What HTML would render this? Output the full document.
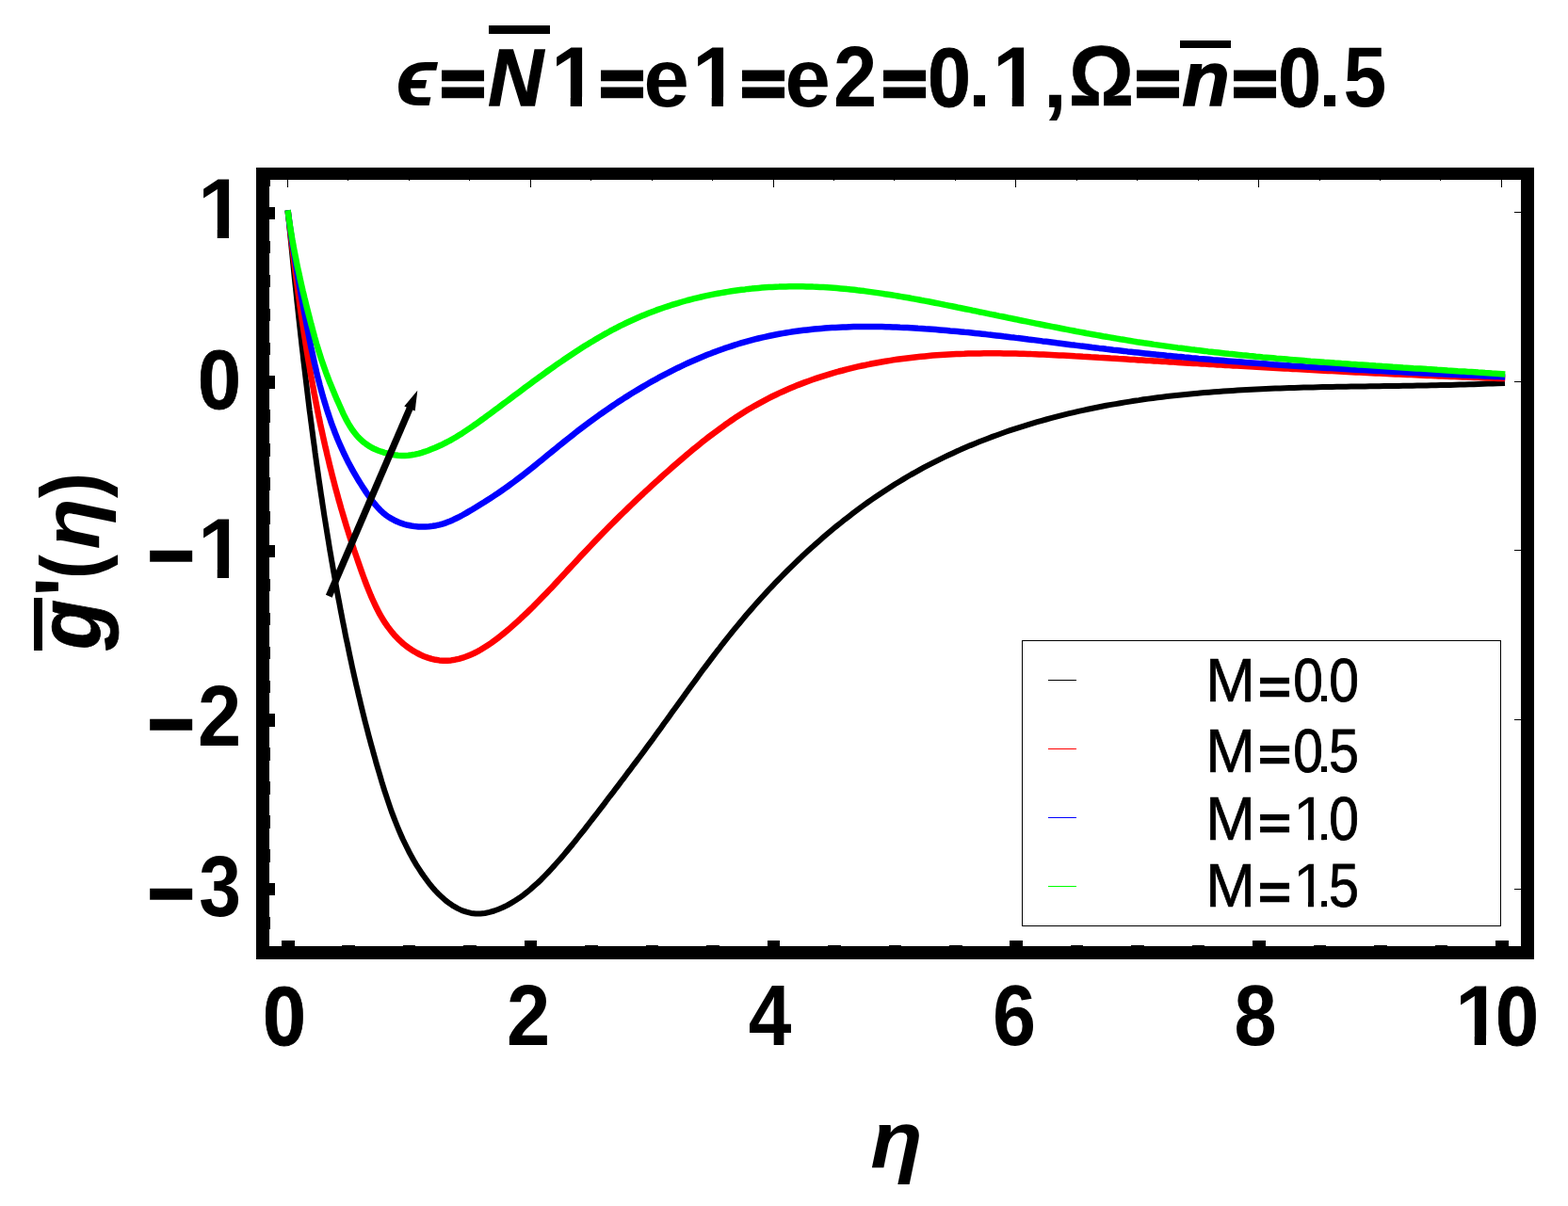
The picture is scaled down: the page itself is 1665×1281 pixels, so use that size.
<!DOCTYPE html>
<html lang="en">
<head>
<meta charset="utf-8">
<title>Plot</title>
<style>
html,body{margin:0;padding:0;background:#fff}
svg{display:block}
text{font-family:"Liberation Sans",sans-serif;fill:#000;stroke-linejoin:miter}
</style>
</head>
<body>
<svg width="1665" height="1281" viewBox="0 0 1665 1281">
<rect width="1665" height="1281" fill="#fff"/>
<defs><clipPath id="c0"><path clip-rule="evenodd" d="M-3000,-3000H3000V3000H-3000ZM1376.21,885.85h12.80v8.15h-12.80ZM1395.00,885.85h8.30v8.15h-8.30Z"/></clipPath><clipPath id="c1"><path clip-rule="evenodd" d="M-3000,-3000H3000V3000H-3000ZM1376.21,956.85h12.80v8.15h-12.80ZM1395.00,956.85h8.30v8.15h-8.30Z"/></clipPath><clipPath id="c2"><path clip-rule="evenodd" d="M-3000,-3000H3000V3000H-3000ZM589.02,102.66h16.72v12.34h-16.72ZM618.00,102.66h15.59v12.34h-15.59ZM739.02,102.66h16.72v12.34h-16.72ZM768.00,102.66h15.59v12.34h-15.59ZM1058.02,102.66h16.72v12.34h-16.72ZM1087.00,102.66h15.59v12.34h-15.59Z"/></clipPath><clipPath id="c3"><path clip-rule="evenodd" d="M-3000,-3000H3000V3000H-3000ZM214.02,242.66h16.72v12.34h-16.72ZM243.00,242.66h15.59v12.34h-15.59Z"/></clipPath><clipPath id="c4"><path clip-rule="evenodd" d="M-3000,-3000H3000V3000H-3000ZM214.02,603.66h16.72v12.34h-16.72ZM243.00,603.66h15.59v12.34h-15.59Z"/></clipPath><clipPath id="c5"><path clip-rule="evenodd" d="M-3000,-3000H3000V3000H-3000ZM1549.02,1099.66h16.72v12.34h-16.72ZM1578.00,1099.66h15.50v12.34h-15.50Z"/></clipPath></defs>
<g fill="#000" shape-rendering="crispEdges">
<rect x="272" y="178" width="14" height="841"/>
<rect x="1615" y="178" width="14" height="841"/>
<rect x="272" y="178" width="1357" height="13"/>
<rect x="272" y="1005" width="1357" height="14"/>
<rect x="286" y="973.9" width="1" height="13.5"/>
<rect x="286" y="938" width="6" height="13"/>
<rect x="1608" y="944" width="7" height="1"/>
<rect x="286" y="902.1" width="1" height="13.5"/>
<rect x="286" y="866.2" width="1" height="13.5"/>
<rect x="286" y="830.3" width="1" height="13.5"/>
<rect x="286" y="794.4" width="1" height="13.5"/>
<rect x="286" y="758" width="6" height="14"/>
<rect x="1608" y="764" width="7" height="1"/>
<rect x="286" y="722.6" width="1" height="13.5"/>
<rect x="286" y="686.7" width="1" height="13.5"/>
<rect x="286" y="650.8" width="1" height="13.5"/>
<rect x="286" y="614.9" width="1" height="13.5"/>
<rect x="286" y="579" width="6" height="13"/>
<rect x="1608" y="584" width="7" height="1"/>
<rect x="286" y="543.1" width="1" height="13.5"/>
<rect x="286" y="507.2" width="1" height="13.5"/>
<rect x="286" y="471.3" width="1" height="13.5"/>
<rect x="286" y="435.4" width="1" height="13.5"/>
<rect x="286" y="399" width="6" height="14"/>
<rect x="1608" y="405" width="7" height="1"/>
<rect x="286" y="363.6" width="1" height="13.5"/>
<rect x="286" y="327.7" width="1" height="13.5"/>
<rect x="286" y="291.8" width="1" height="13.5"/>
<rect x="286" y="255.9" width="1" height="13.5"/>
<rect x="286" y="220" width="6" height="13"/>
<rect x="1608" y="225" width="7" height="1"/>
<rect x="286" y="184.1" width="1" height="13.5"/>
<rect x="299.0" y="999" width="13.5" height="6"/>
<rect x="305" y="191" width="1" height="8"/>
<rect x="363.4" y="1004" width="13.5" height="1"/>
<rect x="369" y="191" width="1" height="1"/>
<rect x="427.9" y="1004" width="13.5" height="1"/>
<rect x="434" y="191" width="1" height="1"/>
<rect x="492.4" y="1004" width="13.5" height="1"/>
<rect x="498" y="191" width="1" height="1"/>
<rect x="556.8" y="999" width="13.5" height="6"/>
<rect x="563" y="191" width="1" height="8"/>
<rect x="621.2" y="1004" width="13.5" height="1"/>
<rect x="627" y="191" width="1" height="1"/>
<rect x="685.7" y="1004" width="13.5" height="1"/>
<rect x="692" y="191" width="1" height="1"/>
<rect x="750.2" y="1004" width="13.5" height="1"/>
<rect x="756" y="191" width="1" height="1"/>
<rect x="814.6" y="999" width="13.5" height="6"/>
<rect x="821" y="191" width="1" height="8"/>
<rect x="879.1" y="1004" width="13.5" height="1"/>
<rect x="885" y="191" width="1" height="1"/>
<rect x="943.5" y="1004" width="13.5" height="1"/>
<rect x="949" y="191" width="1" height="1"/>
<rect x="1008.0" y="1004" width="13.5" height="1"/>
<rect x="1014" y="191" width="1" height="1"/>
<rect x="1072.4" y="999" width="13.5" height="6"/>
<rect x="1078" y="191" width="1" height="8"/>
<rect x="1136.8" y="1004" width="13.5" height="1"/>
<rect x="1143" y="191" width="1" height="1"/>
<rect x="1201.3" y="1004" width="13.5" height="1"/>
<rect x="1207" y="191" width="1" height="1"/>
<rect x="1265.8" y="1004" width="13.5" height="1"/>
<rect x="1272" y="191" width="1" height="1"/>
<rect x="1330.2" y="999" width="13.5" height="6"/>
<rect x="1336" y="191" width="1" height="8"/>
<rect x="1394.7" y="1004" width="13.5" height="1"/>
<rect x="1401" y="191" width="1" height="1"/>
<rect x="1459.1" y="1004" width="13.5" height="1"/>
<rect x="1465" y="191" width="1" height="1"/>
<rect x="1523.5" y="1004" width="13.5" height="1"/>
<rect x="1529" y="191" width="1" height="1"/>
<rect x="1588.0" y="999" width="13.5" height="6"/>
<rect x="1594" y="191" width="1" height="8"/>
</g>
<g fill="none" stroke-width="6.5" stroke-linecap="square" stroke-linejoin="round">
<path stroke="#000" stroke-width="6" d="M306.0,226.5 306.5,231.5 307.0,236.5 307.4,241.5 307.9,246.5 308.4,251.4 308.9,256.4 309.4,261.4 309.9,266.4 310.4,271.4 310.9,276.4 311.4,281.4 311.9,286.4 312.4,291.4 312.9,296.4 313.4,301.3 314.0,306.3 314.5,311.3 315.0,316.3 315.5,321.3 316.1,326.3 316.6,331.3 317.1,336.3 317.7,341.3 318.2,346.3 318.8,351.3 319.3,356.3 319.9,361.2 320.4,366.2 321.0,371.2 321.6,376.2 322.1,381.2 322.7,386.2 323.3,391.2 323.9,396.2 324.5,401.2 325.1,406.1 325.7,411.1 326.3,416.1 326.9,421.1 327.5,426.1 328.1,431.1 328.7,436.1 329.4,441.0 330.0,446.0 330.7,451.0 331.3,456.0 332.0,461.0 332.6,465.9 333.3,470.9 334.0,475.9 334.6,480.9 335.3,485.8 336.0,490.8 336.7,495.8 337.4,500.7 338.1,505.7 338.8,510.7 339.6,515.7 340.3,520.6 341.0,525.6 341.8,530.5 342.5,535.5 343.3,540.5 344.0,545.4 344.8,550.4 345.6,555.3 346.4,560.3 347.2,565.2 348.0,570.2 348.8,575.1 349.6,580.1 350.4,585.0 351.3,590.0 352.1,594.9 353.0,599.9 353.8,604.8 354.7,609.7 355.6,614.7 356.4,619.6 357.3,624.5 358.2,629.5 359.1,634.4 360.1,639.3 361.0,644.2 361.9,649.2 362.9,654.1 363.8,659.0 364.8,663.9 365.8,668.8 366.7,673.7 367.7,678.6 368.8,683.5 369.8,688.4 370.8,693.3 371.8,698.2 372.9,703.1 373.9,708.0 375.0,712.9 376.1,717.8 377.2,722.7 378.3,727.6 379.5,732.5 380.6,737.4 381.8,742.2 382.9,747.1 384.1,752.0 385.3,756.9 386.5,761.7 387.7,766.6 389.0,771.5 390.3,776.4 391.5,781.2 392.8,786.1 394.1,790.9 395.5,795.8 396.8,800.7 398.2,805.5 399.5,810.4 400.9,815.2 402.4,820.1 403.8,824.9 405.2,829.8 406.7,834.6 408.2,839.5 409.8,844.3 411.4,849.1 413.0,853.9 414.6,858.6 416.3,863.4 418.1,868.1 419.9,872.8 421.8,877.5 423.7,882.1 425.7,886.7 427.7,891.3 429.9,895.8 432.1,900.3 434.3,904.7 436.7,909.1 439.1,913.5 441.6,917.8 444.3,922.0 447.0,926.2 449.8,930.3 452.7,934.3 455.7,938.3 458.9,942.2 462.2,946.0 465.7,949.6 469.4,953.1 473.2,956.5 477.3,959.6 481.5,962.4 485.9,964.9 490.5,967.1 495.3,968.7 500.1,969.9 505.1,970.5 510.1,970.5 515.0,970.0 519.9,968.9 524.7,967.5 529.5,965.7 534.1,963.8 538.6,961.6 542.9,959.1 547.2,956.5 551.4,953.8 555.5,950.8 559.5,947.7 563.4,944.5 567.2,941.1 571.0,937.7 574.7,934.2 578.3,930.5 581.8,926.9 585.2,923.2 588.7,919.4 592.0,915.6 595.3,911.9 598.6,908.1 601.8,904.3 604.9,900.5 608.1,896.7 611.2,892.8 614.2,889.0 617.3,885.1 620.4,881.3 623.4,877.4 626.4,873.5 629.4,869.6 632.5,865.7 635.5,861.7 638.5,857.8 641.6,853.8 644.6,849.8 647.6,845.8 650.7,841.9 653.7,837.8 656.8,833.8 659.8,829.8 662.9,825.8 665.9,821.7 669.0,817.7 672.0,813.6 675.0,809.6 678.1,805.5 681.1,801.5 684.1,797.4 687.1,793.3 690.1,789.2 693.1,785.2 696.1,781.1 699.0,777.0 702.0,772.9 704.9,768.8 707.9,764.8 710.8,760.7 713.7,756.6 716.7,752.5 719.6,748.5 722.5,744.4 725.4,740.4 728.4,736.3 731.3,732.3 734.2,728.2 737.2,724.2 740.1,720.2 743.1,716.1 746.0,712.1 749.0,708.1 752.0,704.1 755.0,700.1 758.0,696.2 761.0,692.2 764.1,688.3 767.1,684.3 770.2,680.4 773.3,676.5 776.4,672.6 779.6,668.7 782.8,664.8 786.0,661.0 789.2,657.1 792.4,653.3 795.7,649.5 799.0,645.7 802.3,641.9 805.6,638.2 809.0,634.4 812.4,630.7 815.8,627.0 819.3,623.4 822.7,619.7 826.2,616.1 829.7,612.5 833.3,608.9 836.8,605.3 840.4,601.8 844.0,598.3 847.7,594.8 851.3,591.3 855.0,587.9 858.7,584.4 862.5,581.1 866.2,577.7 870.0,574.4 873.8,571.1 877.6,567.8 881.5,564.5 885.3,561.3 889.2,558.1 893.2,555.0 897.1,551.8 901.1,548.8 905.1,545.7 909.1,542.7 913.1,539.7 917.2,536.7 921.2,533.8 925.3,530.9 929.5,528.0 933.6,525.2 937.8,522.4 942.0,519.7 946.2,517.0 950.4,514.3 954.7,511.7 959.0,509.1 963.3,506.5 967.6,504.0 972.0,501.6 976.4,499.1 980.8,496.7 985.2,494.4 989.6,492.1 994.1,489.8 998.6,487.6 1003.1,485.4 1007.6,483.3 1012.1,481.2 1016.7,479.1 1021.2,477.1 1025.8,475.1 1030.4,473.1 1035.1,471.2 1039.7,469.3 1044.4,467.5 1049.0,465.7 1053.7,463.9 1058.4,462.2 1063.2,460.5 1067.9,458.8 1072.6,457.2 1077.4,455.6 1082.2,454.1 1087.0,452.6 1091.7,451.1 1096.6,449.6 1101.4,448.2 1106.2,446.8 1111.0,445.5 1115.9,444.2 1120.7,442.9 1125.6,441.6 1130.5,440.4 1135.4,439.2 1140.2,438.1 1145.1,436.9 1150.0,435.9 1155.0,434.8 1159.9,433.8 1164.8,432.8 1169.7,431.8 1174.6,430.8 1179.6,429.9 1184.5,429.1 1189.5,428.2 1194.4,427.4 1199.4,426.6 1204.3,425.8 1209.3,425.1 1214.2,424.3 1219.2,423.6 1224.1,423.0 1229.1,422.3 1234.1,421.7 1239.1,421.1 1244.0,420.5 1249.0,420.0 1254.0,419.4 1259.0,418.9 1264.0,418.4 1269.0,418.0 1274.0,417.5 1279.0,417.1 1284.0,416.7 1289.0,416.3 1294.0,415.9 1299.0,415.5 1304.0,415.2 1309.0,414.9 1314.0,414.6 1319.0,414.3 1324.0,414.0 1329.0,413.7 1334.0,413.5 1339.1,413.2 1344.1,413.0 1349.1,412.8 1354.1,412.6 1359.2,412.4 1364.2,412.2 1369.2,412.1 1374.2,411.9 1379.3,411.8 1384.3,411.6 1389.3,411.5 1394.3,411.4 1399.4,411.2 1404.4,411.1 1409.4,411.0 1414.5,410.9 1419.5,410.8 1424.5,410.8 1429.5,410.7 1434.6,410.6 1439.6,410.5 1444.6,410.4 1449.7,410.4 1454.7,410.3 1459.7,410.2 1464.7,410.2 1469.8,410.1 1474.8,410.0 1479.8,409.9 1484.9,409.9 1489.9,409.8 1494.9,409.7 1499.9,409.7 1504.9,409.6 1510.0,409.5 1515.0,409.4 1520.0,409.3 1525.0,409.2 1530.0,409.1 1535.0,409.0 1540.0,408.9 1545.0,408.8 1550.1,408.6 1555.1,408.5 1560.1,408.3 1565.1,408.2 1570.1,408.0 1575.0,407.8 1580.0,407.6 1585.0,407.4 1590.0,407.2 1595.0,407.0"/>
<path stroke="#f00" d="M306.0,226.5 306.5,230.7 307.0,234.9 307.5,239.1 308.0,243.3 308.5,247.5 309.0,251.7 309.5,255.9 310.0,260.1 310.6,264.3 311.1,268.5 311.6,272.6 312.1,276.8 312.7,281.0 313.2,285.2 313.7,289.4 314.3,293.5 314.8,297.7 315.4,301.9 316.0,306.0 316.5,310.2 317.1,314.3 317.7,318.5 318.2,322.7 318.8,326.8 319.4,331.0 320.0,335.1 320.6,339.3 321.2,343.4 321.9,347.5 322.5,351.7 323.1,355.8 323.8,359.9 324.4,364.1 325.1,368.2 325.7,372.3 326.4,376.5 327.1,380.6 327.8,384.7 328.5,388.8 329.2,392.9 329.9,397.1 330.6,401.2 331.4,405.3 332.1,409.4 332.9,413.5 333.6,417.6 334.4,421.7 335.2,425.8 336.0,429.9 336.8,434.0 337.6,438.1 338.4,442.2 339.3,446.3 340.1,450.4 341.0,454.5 341.9,458.5 342.8,462.6 343.7,466.7 344.6,470.8 345.5,474.9 346.5,478.9 347.4,483.0 348.4,487.1 349.4,491.2 350.3,495.2 351.4,499.3 352.4,503.4 353.4,507.4 354.5,511.5 355.5,515.5 356.6,519.6 357.7,523.7 358.8,527.7 359.9,531.8 361.1,535.8 362.2,539.9 363.4,543.9 364.6,548.0 365.8,552.0 367.0,556.0 368.2,560.1 369.5,564.1 370.8,568.2 372.1,572.2 373.4,576.2 374.7,580.3 376.0,584.3 377.4,588.3 378.8,592.3 380.2,596.4 381.6,600.4 383.0,604.4 384.4,608.4 385.9,612.5 387.4,616.5 388.9,620.5 390.5,624.5 392.1,628.4 393.7,632.4 395.4,636.3 397.2,640.2 399.0,644.0 400.9,647.8 402.8,651.5 404.9,655.1 407.1,658.7 409.3,662.2 411.7,665.6 414.2,668.9 416.8,672.2 419.5,675.3 422.4,678.3 425.4,681.2 428.5,684.0 431.9,686.6 435.3,689.1 438.9,691.4 442.6,693.5 446.4,695.5 450.3,697.2 454.3,698.6 458.3,699.9 462.4,700.8 466.5,701.4 470.7,701.7 474.9,701.7 479.0,701.4 483.2,700.7 487.3,699.8 491.3,698.7 495.3,697.3 499.2,695.7 503.1,694.0 506.9,692.1 510.6,690.0 514.2,687.8 517.8,685.5 521.4,683.1 524.8,680.6 528.2,678.1 531.5,675.5 534.8,672.9 538.0,670.3 541.1,667.6 544.2,664.9 547.3,662.1 550.4,659.4 553.4,656.5 556.5,653.7 559.5,650.8 562.5,647.9 565.5,645.0 568.4,642.0 571.4,639.0 574.3,636.0 577.2,633.0 580.2,630.0 583.1,626.9 586.0,623.9 588.9,620.8 591.7,617.7 594.6,614.6 597.5,611.5 600.4,608.4 603.2,605.3 606.1,602.2 609.0,599.1 611.9,596.0 614.7,592.9 617.6,589.8 620.5,586.7 623.4,583.7 626.3,580.6 629.2,577.6 632.1,574.5 635.0,571.5 637.9,568.5 640.8,565.5 643.8,562.5 646.7,559.5 649.7,556.5 652.6,553.6 655.6,550.6 658.6,547.7 661.6,544.7 664.6,541.8 667.6,538.9 670.6,536.0 673.6,533.1 676.7,530.2 679.7,527.3 682.8,524.5 685.8,521.6 688.9,518.8 692.0,515.9 695.1,513.1 698.2,510.3 701.3,507.5 704.4,504.7 707.6,501.9 710.7,499.1 713.9,496.3 717.1,493.5 720.3,490.8 723.5,488.0 726.7,485.3 729.9,482.5 733.2,479.8 736.4,477.1 739.7,474.4 743.0,471.8 746.3,469.1 749.6,466.5 752.9,463.9 756.3,461.3 759.7,458.8 763.1,456.3 766.5,453.8 769.9,451.3 773.4,448.9 776.8,446.5 780.3,444.1 783.9,441.8 787.4,439.5 790.9,437.3 794.5,435.1 798.1,433.0 801.8,430.8 805.4,428.8 809.1,426.8 812.8,424.8 816.5,422.9 820.2,421.0 824.0,419.2 827.8,417.4 831.6,415.7 835.4,414.0 839.3,412.3 843.1,410.7 847.0,409.1 850.9,407.6 854.8,406.1 858.7,404.7 862.7,403.3 866.7,401.9 870.6,400.6 874.6,399.3 878.6,398.1 882.7,396.8 886.7,395.7 890.7,394.5 894.8,393.5 898.9,392.4 902.9,391.4 907.0,390.4 911.1,389.4 915.3,388.5 919.4,387.7 923.5,386.8 927.6,386.0 931.8,385.2 935.9,384.5 940.1,383.8 944.3,383.1 948.4,382.4 952.6,381.8 956.8,381.2 961.0,380.7 965.2,380.2 969.3,379.7 973.5,379.2 977.7,378.8 981.9,378.4 986.1,378.0 990.3,377.6 994.5,377.3 998.7,377.0 1002.9,376.7 1007.1,376.5 1011.3,376.3 1015.5,376.1 1019.7,375.9 1023.9,375.8 1028.1,375.6 1032.3,375.5 1036.5,375.4 1040.7,375.4 1044.9,375.3 1049.1,375.3 1053.3,375.3 1057.5,375.3 1061.7,375.3 1065.9,375.4 1070.1,375.4 1074.3,375.5 1078.5,375.6 1082.7,375.7 1086.9,375.8 1091.1,375.9 1095.3,376.1 1099.5,376.2 1103.7,376.4 1107.9,376.6 1112.1,376.8 1116.3,377.0 1120.5,377.2 1124.7,377.4 1128.9,377.6 1133.1,377.8 1137.3,378.0 1141.5,378.3 1145.7,378.5 1149.9,378.8 1154.1,379.0 1158.3,379.3 1162.5,379.5 1166.7,379.8 1170.9,380.0 1175.1,380.3 1179.3,380.6 1183.5,380.8 1187.7,381.1 1191.9,381.3 1196.1,381.6 1200.3,381.9 1204.5,382.1 1208.6,382.4 1212.8,382.6 1217.0,382.9 1221.2,383.1 1225.4,383.4 1229.6,383.6 1233.8,383.9 1238.0,384.1 1242.2,384.4 1246.4,384.6 1250.6,384.9 1254.8,385.2 1259.0,385.4 1263.2,385.7 1267.4,385.9 1271.6,386.1 1275.8,386.4 1280.0,386.6 1284.2,386.9 1288.4,387.1 1292.6,387.4 1296.8,387.6 1301.0,387.9 1305.2,388.1 1309.4,388.4 1313.6,388.6 1317.8,388.8 1322.0,389.1 1326.2,389.3 1330.4,389.5 1334.6,389.8 1338.8,390.0 1343.0,390.3 1347.2,390.5 1351.4,390.7 1355.6,391.0 1359.8,391.2 1364.0,391.4 1368.2,391.6 1372.4,391.9 1376.6,392.1 1380.8,392.3 1385.0,392.5 1389.2,392.8 1393.4,393.0 1397.6,393.2 1401.8,393.4 1406.0,393.7 1410.2,393.9 1414.4,394.1 1418.6,394.3 1422.8,394.5 1427.0,394.7 1431.2,394.9 1435.4,395.2 1439.6,395.4 1443.8,395.6 1448.0,395.8 1452.2,396.0 1456.4,396.2 1460.6,396.4 1464.8,396.6 1469.0,396.8 1473.2,397.0 1477.4,397.2 1481.6,397.4 1485.8,397.6 1490.0,397.8 1494.2,397.9 1498.4,398.1 1502.6,398.3 1506.8,398.5 1511.0,398.7 1515.2,398.9 1519.4,399.1 1523.6,399.2 1527.8,399.4 1532.0,399.6 1536.2,399.8 1540.4,399.9 1544.6,400.1 1548.8,400.3 1553.0,400.4 1557.2,400.6 1561.4,400.8 1565.6,400.9 1569.8,401.1 1574.0,401.2 1578.2,401.4 1582.4,401.6 1586.6,401.7 1590.8,401.9 1595.0,402.0"/>
<path stroke="#00f" d="M306.0,226.5 306.5,230.3 307.0,234.0 307.5,237.8 308.0,241.6 308.6,245.3 309.1,249.1 309.7,252.9 310.2,256.6 310.8,260.4 311.4,264.1 312.0,267.9 312.6,271.6 313.2,275.3 313.8,279.1 314.4,282.8 315.0,286.6 315.7,290.3 316.3,294.0 317.0,297.8 317.6,301.5 318.3,305.2 319.0,309.0 319.6,312.7 320.3,316.4 321.0,320.2 321.7,323.9 322.4,327.6 323.1,331.4 323.8,335.1 324.5,338.8 325.2,342.6 325.9,346.3 326.6,350.0 327.4,353.8 328.1,357.5 328.8,361.2 329.6,365.0 330.3,368.7 331.1,372.4 331.9,376.1 332.7,379.9 333.5,383.6 334.3,387.3 335.2,391.0 336.0,394.7 336.9,398.4 337.8,402.1 338.8,405.8 339.7,409.5 340.7,413.1 341.7,416.8 342.7,420.5 343.8,424.1 344.9,427.8 346.0,431.4 347.1,435.0 348.3,438.6 349.5,442.2 350.7,445.8 351.9,449.4 353.2,452.9 354.6,456.5 355.9,460.0 357.3,463.5 358.7,467.0 360.2,470.5 361.7,473.9 363.3,477.4 364.8,480.8 366.5,484.2 368.1,487.6 369.8,490.9 371.6,494.3 373.4,497.6 375.2,500.9 377.1,504.2 379.0,507.4 381.0,510.7 383.0,513.9 385.1,517.2 387.2,520.4 389.3,523.6 391.6,526.8 393.8,530.0 396.1,533.1 398.6,536.1 401.1,539.0 403.7,541.8 406.5,544.4 409.4,546.8 412.4,549.0 415.6,550.9 418.9,552.7 422.3,554.3 425.8,555.7 429.3,556.8 433.0,557.8 436.7,558.5 440.4,559.1 444.2,559.4 448.0,559.6 451.8,559.5 455.6,559.3 459.4,558.8 463.1,558.2 466.8,557.3 470.5,556.3 474.1,555.1 477.6,553.7 481.1,552.2 484.6,550.5 488.0,548.8 491.4,547.0 494.8,545.1 498.1,543.1 501.4,541.2 504.7,539.2 507.9,537.2 511.1,535.2 514.4,533.2 517.5,531.2 520.7,529.2 523.9,527.1 527.0,525.1 530.1,523.0 533.3,520.8 536.3,518.7 539.4,516.5 542.5,514.2 545.5,512.0 548.6,509.7 551.6,507.4 554.6,505.1 557.6,502.7 560.6,500.4 563.6,498.0 566.6,495.6 569.5,493.2 572.5,490.8 575.4,488.4 578.4,486.0 581.3,483.6 584.2,481.2 587.1,478.9 590.1,476.5 593.0,474.1 595.9,471.7 598.8,469.4 601.8,467.0 604.7,464.7 607.7,462.4 610.6,460.0 613.6,457.7 616.6,455.4 619.6,453.1 622.6,450.9 625.6,448.6 628.7,446.3 631.8,444.1 634.9,441.9 637.9,439.7 641.1,437.5 644.2,435.3 647.3,433.2 650.5,431.0 653.7,428.9 656.8,426.8 660.0,424.7 663.2,422.6 666.5,420.6 669.7,418.6 673.0,416.5 676.2,414.6 679.5,412.6 682.8,410.6 686.1,408.7 689.4,406.8 692.7,404.9 696.1,403.1 699.4,401.2 702.8,399.4 706.2,397.6 709.6,395.9 713.0,394.1 716.4,392.4 719.8,390.7 723.2,389.1 726.7,387.4 730.2,385.8 733.6,384.3 737.1,382.7 740.6,381.2 744.1,379.7 747.6,378.3 751.1,376.8 754.7,375.5 758.2,374.1 761.8,372.8 765.3,371.5 768.9,370.2 772.5,369.0 776.1,367.8 779.7,366.6 783.3,365.5 786.9,364.4 790.5,363.3 794.1,362.3 797.8,361.3 801.4,360.4 805.1,359.5 808.8,358.6 812.4,357.8 816.1,357.0 819.8,356.2 823.5,355.5 827.2,354.8 830.9,354.1 834.6,353.5 838.4,352.9 842.1,352.3 845.8,351.8 849.6,351.3 853.3,350.8 857.1,350.4 860.8,350.0 864.6,349.6 868.4,349.2 872.1,348.9 875.9,348.6 879.7,348.3 883.5,348.1 887.2,347.9 891.0,347.7 894.8,347.5 898.6,347.4 902.4,347.2 906.2,347.1 910.0,347.1 913.8,347.0 917.6,347.0 921.4,347.0 925.3,347.0 929.1,347.0 932.9,347.1 936.7,347.1 940.5,347.2 944.3,347.3 948.1,347.5 951.9,347.6 955.8,347.8 959.6,347.9 963.4,348.1 967.2,348.3 971.0,348.5 974.8,348.8 978.6,349.0 982.4,349.3 986.2,349.5 990.0,349.8 993.8,350.1 997.6,350.4 1001.4,350.7 1005.2,351.0 1009.0,351.4 1012.8,351.7 1016.6,352.0 1020.4,352.4 1024.1,352.8 1027.9,353.1 1031.7,353.5 1035.5,353.9 1039.3,354.3 1043.0,354.7 1046.8,355.1 1050.6,355.6 1054.3,356.0 1058.1,356.4 1061.9,356.8 1065.6,357.3 1069.4,357.7 1073.2,358.2 1076.9,358.6 1080.7,359.1 1084.5,359.5 1088.2,360.0 1092.0,360.5 1095.8,360.9 1099.5,361.4 1103.3,361.9 1107.0,362.4 1110.8,362.8 1114.5,363.3 1118.3,363.8 1122.1,364.3 1125.8,364.7 1129.6,365.2 1133.3,365.7 1137.1,366.2 1140.9,366.6 1144.6,367.1 1148.4,367.6 1152.1,368.0 1155.9,368.5 1159.7,369.0 1163.4,369.4 1167.2,369.9 1170.9,370.3 1174.7,370.8 1178.5,371.2 1182.2,371.7 1186.0,372.1 1189.8,372.5 1193.5,372.9 1197.3,373.4 1201.1,373.8 1204.8,374.2 1208.6,374.6 1212.4,375.0 1216.2,375.4 1219.9,375.8 1223.7,376.2 1227.5,376.6 1231.3,376.9 1235.0,377.3 1238.8,377.7 1242.6,378.0 1246.4,378.4 1250.2,378.8 1253.9,379.1 1257.7,379.5 1261.5,379.8 1265.3,380.2 1269.1,380.5 1272.8,380.9 1276.6,381.2 1280.4,381.5 1284.2,381.8 1288.0,382.2 1291.8,382.5 1295.6,382.8 1299.3,383.1 1303.1,383.4 1306.9,383.7 1310.7,384.0 1314.5,384.3 1318.3,384.6 1322.1,384.9 1325.9,385.2 1329.6,385.5 1333.4,385.8 1337.2,386.1 1341.0,386.3 1344.8,386.6 1348.6,386.9 1352.4,387.2 1356.2,387.4 1360.0,387.7 1363.8,388.0 1367.6,388.2 1371.4,388.5 1375.1,388.7 1378.9,389.0 1382.7,389.2 1386.5,389.5 1390.3,389.7 1394.1,390.0 1397.9,390.2 1401.7,390.4 1405.5,390.7 1409.3,390.9 1413.1,391.1 1416.9,391.3 1420.7,391.6 1424.5,391.8 1428.3,392.0 1432.1,392.2 1435.8,392.5 1439.6,392.7 1443.4,392.9 1447.2,393.1 1451.0,393.3 1454.8,393.5 1458.6,393.7 1462.4,393.9 1466.2,394.1 1470.0,394.3 1473.8,394.5 1477.6,394.7 1481.4,394.9 1485.2,395.1 1489.0,395.3 1492.7,395.5 1496.5,395.7 1500.3,395.9 1504.1,396.1 1507.9,396.3 1511.7,396.4 1515.5,396.6 1519.3,396.8 1523.1,397.0 1526.9,397.2 1530.7,397.3 1534.4,397.5 1538.2,397.7 1542.0,397.9 1545.8,398.1 1549.6,398.2 1553.4,398.4 1557.2,398.6 1561.0,398.8 1564.7,398.9 1568.5,399.1 1572.3,399.3 1576.1,399.4 1579.9,399.6 1583.7,399.8 1587.4,400.0 1591.2,400.1 1595.0,400.3"/>
<path stroke="#0f0" d="M306.0,226.5 306.5,230.1 307.0,233.7 307.6,237.3 308.1,240.9 308.7,244.5 309.3,248.1 309.9,251.7 310.5,255.3 311.2,258.8 311.8,262.4 312.5,266.0 313.2,269.6 313.9,273.1 314.6,276.7 315.3,280.3 316.0,283.8 316.8,287.4 317.6,290.9 318.3,294.5 319.1,298.0 319.9,301.6 320.7,305.1 321.5,308.7 322.4,312.2 323.2,315.8 324.1,319.3 324.9,322.8 325.8,326.4 326.7,329.9 327.6,333.4 328.5,336.9 329.4,340.5 330.3,344.0 331.3,347.5 332.2,351.0 333.2,354.6 334.1,358.1 335.1,361.6 336.1,365.1 337.2,368.6 338.2,372.0 339.3,375.5 340.4,379.0 341.5,382.4 342.7,385.9 343.9,389.3 345.1,392.7 346.3,396.1 347.6,399.5 348.9,402.9 350.2,406.3 351.6,409.6 353.0,413.0 354.4,416.3 355.8,419.7 357.2,423.1 358.7,426.4 360.2,429.8 361.7,433.1 363.2,436.5 364.7,439.8 366.3,443.1 368.0,446.4 369.8,449.6 371.7,452.7 373.6,455.8 375.8,458.7 378.0,461.6 380.4,464.3 383.0,466.8 385.7,469.3 388.6,471.5 391.6,473.6 394.8,475.5 398.0,477.1 401.4,478.5 404.9,479.7 408.4,480.8 411.9,481.7 415.5,482.5 419.1,483.2 422.7,483.7 426.3,483.9 429.9,483.9 433.5,483.7 437.1,483.3 440.7,482.6 444.3,481.8 447.8,480.8 451.3,479.7 454.8,478.5 458.3,477.1 461.6,475.8 465.0,474.3 468.3,472.8 471.6,471.1 474.8,469.5 478.0,467.8 481.2,466.0 484.3,464.2 487.4,462.3 490.5,460.4 493.5,458.4 496.5,456.4 499.5,454.4 502.5,452.3 505.5,450.3 508.5,448.1 511.4,446.0 514.4,443.9 517.3,441.7 520.2,439.6 523.2,437.4 526.1,435.2 529.0,433.1 531.9,430.9 534.8,428.7 537.8,426.5 540.7,424.3 543.6,422.1 546.5,419.9 549.4,417.8 552.4,415.6 555.3,413.4 558.2,411.2 561.1,409.1 564.1,406.9 567.0,404.7 569.9,402.6 572.9,400.4 575.8,398.3 578.8,396.1 581.7,394.0 584.7,391.9 587.6,389.8 590.6,387.7 593.6,385.6 596.6,383.6 599.6,381.5 602.6,379.5 605.6,377.5 608.6,375.5 611.6,373.5 614.7,371.5 617.7,369.6 620.8,367.6 623.9,365.7 627.0,363.8 630.1,362.0 633.2,360.1 636.3,358.3 639.4,356.5 642.6,354.7 645.7,353.0 648.9,351.2 652.1,349.5 655.3,347.9 658.5,346.2 661.8,344.6 665.0,343.0 668.3,341.5 671.6,340.0 674.9,338.5 678.3,337.0 681.6,335.6 685.0,334.2 688.4,332.8 691.8,331.5 695.2,330.2 698.6,328.9 702.0,327.7 705.5,326.5 709.0,325.4 712.5,324.2 716.0,323.1 719.5,322.1 723.0,321.0 726.5,320.0 730.0,319.0 733.6,318.1 737.1,317.2 740.7,316.3 744.3,315.5 747.8,314.7 751.4,313.9 755.0,313.1 758.6,312.4 762.2,311.7 765.8,311.1 769.4,310.5 773.0,309.9 776.6,309.3 780.2,308.8 783.8,308.3 787.4,307.8 791.1,307.4 794.7,306.9 798.3,306.6 801.9,306.2 805.5,305.9 809.1,305.6 812.8,305.3 816.4,305.1 820.0,304.9 823.6,304.7 827.2,304.6 830.9,304.4 834.5,304.4 838.1,304.3 841.7,304.2 845.3,304.2 849.0,304.2 852.6,304.3 856.2,304.4 859.8,304.4 863.4,304.6 867.1,304.7 870.7,304.9 874.3,305.1 877.9,305.3 881.5,305.5 885.1,305.8 888.7,306.1 892.3,306.4 896.0,306.7 899.6,307.1 903.2,307.4 906.8,307.8 910.4,308.3 914.0,308.7 917.6,309.1 921.2,309.6 924.8,310.1 928.4,310.6 932.0,311.1 935.6,311.6 939.2,312.2 942.8,312.7 946.4,313.3 950.0,313.9 953.6,314.5 957.2,315.1 960.8,315.7 964.4,316.3 967.9,317.0 971.5,317.6 975.1,318.3 978.7,319.0 982.3,319.6 985.9,320.3 989.5,321.0 993.0,321.7 996.6,322.4 1000.2,323.1 1003.8,323.9 1007.4,324.6 1010.9,325.3 1014.5,326.0 1018.1,326.8 1021.7,327.5 1025.2,328.2 1028.8,328.9 1032.4,329.7 1036.0,330.4 1039.5,331.2 1043.1,331.9 1046.7,332.6 1050.2,333.4 1053.8,334.1 1057.4,334.8 1060.9,335.6 1064.5,336.3 1068.1,337.0 1071.6,337.8 1075.2,338.5 1078.8,339.2 1082.3,340.0 1085.9,340.7 1089.5,341.4 1093.0,342.1 1096.6,342.9 1100.1,343.6 1103.7,344.3 1107.3,345.0 1110.8,345.7 1114.4,346.4 1118.0,347.1 1121.5,347.8 1125.1,348.5 1128.7,349.2 1132.2,349.9 1135.8,350.6 1139.4,351.3 1142.9,352.0 1146.5,352.6 1150.1,353.3 1153.6,354.0 1157.2,354.6 1160.8,355.3 1164.3,355.9 1167.9,356.5 1171.5,357.2 1175.1,357.8 1178.6,358.4 1182.2,359.0 1185.8,359.6 1189.4,360.3 1193.0,360.8 1196.5,361.4 1200.1,362.0 1203.7,362.6 1207.3,363.2 1210.9,363.7 1214.5,364.3 1218.1,364.8 1221.7,365.3 1225.3,365.9 1228.9,366.4 1232.5,366.9 1236.1,367.4 1239.7,367.9 1243.3,368.4 1246.9,368.9 1250.5,369.4 1254.1,369.8 1257.7,370.3 1261.3,370.7 1264.9,371.2 1268.5,371.6 1272.1,372.1 1275.7,372.5 1279.3,372.9 1282.9,373.4 1286.6,373.8 1290.2,374.2 1293.8,374.6 1297.4,375.0 1301.0,375.4 1304.7,375.8 1308.3,376.1 1311.9,376.5 1315.5,376.9 1319.1,377.3 1322.8,377.6 1326.4,378.0 1330.0,378.3 1333.6,378.7 1337.3,379.0 1340.9,379.4 1344.5,379.7 1348.2,380.0 1351.8,380.3 1355.4,380.7 1359.0,381.0 1362.7,381.3 1366.3,381.6 1369.9,381.9 1373.6,382.2 1377.2,382.5 1380.8,382.8 1384.5,383.1 1388.1,383.4 1391.7,383.7 1395.4,383.9 1399.0,384.2 1402.6,384.5 1406.3,384.8 1409.9,385.0 1413.6,385.3 1417.2,385.6 1420.8,385.8 1424.5,386.1 1428.1,386.3 1431.7,386.6 1435.4,386.9 1439.0,387.1 1442.6,387.4 1446.3,387.6 1449.9,387.8 1453.6,388.1 1457.2,388.3 1460.8,388.6 1464.5,388.8 1468.1,389.1 1471.7,389.3 1475.4,389.5 1479.0,389.8 1482.6,390.0 1486.3,390.2 1489.9,390.5 1493.5,390.7 1497.2,390.9 1500.8,391.2 1504.4,391.4 1508.1,391.6 1511.7,391.8 1515.3,392.1 1519.0,392.3 1522.6,392.5 1526.2,392.8 1529.8,393.0 1533.5,393.2 1537.1,393.5 1540.7,393.7 1544.3,393.9 1548.0,394.2 1551.6,394.4 1555.2,394.6 1558.8,394.9 1562.5,395.1 1566.1,395.3 1569.7,395.6 1573.3,395.8 1576.9,396.1 1580.5,396.3 1584.2,396.6 1587.8,396.8 1591.4,397.0 1595.0,397.3"/>
</g>
<g fill="#000" stroke="#000">
<line x1="349.3" y1="633.2" x2="436.6" y2="430.4" stroke-width="7.3"/>
<polygon stroke="none" points="443.3,414.8 429.3,431.6 440.7,436.5"/>
</g>
<g shape-rendering="crispEdges">
<rect x="1085.5" y="680.5" width="508" height="303" fill="#fff" stroke="#000" stroke-width="1"/>
<rect x="1113" y="722" width="30" height="1" fill="#000"/>
<rect x="1113" y="795" width="30" height="1" fill="#f00"/>
<rect x="1113" y="868" width="30" height="1" fill="#00f"/>
<rect x="1113" y="941" width="30" height="1" fill="#0f0"/>
</g>
<text><tspan x="1280.16" y="744.65" font-size="64.39" stroke="#000" stroke-width="0.70" textLength="52.69" lengthAdjust="spacingAndGlyphs">M</tspan><tspan x="1336.43" y="748.06" font-size="54.59" stroke="#000" stroke-width="2.41" textLength="34.16" lengthAdjust="spacingAndGlyphs">=</tspan><tspan x="1373.18" y="744.92" font-size="64.12" stroke="#000" stroke-width="0.90" textLength="31.65" lengthAdjust="spacingAndGlyphs">0</tspan><tspan x="1397.25" y="745.00" font-size="56.11" textLength="17.51" lengthAdjust="spacingAndGlyphs">.</tspan><tspan x="1411.18" y="744.92" font-size="64.12" stroke="#000" stroke-width="0.90" textLength="31.65" lengthAdjust="spacingAndGlyphs">0</tspan></text>
<text><tspan x="1280.16" y="819.65" font-size="64.39" stroke="#000" stroke-width="0.70" textLength="52.69" lengthAdjust="spacingAndGlyphs">M</tspan><tspan x="1336.66" y="819.42" font-size="51.40" stroke="#000" stroke-width="2.64" textLength="33.70" lengthAdjust="spacingAndGlyphs">=</tspan><tspan x="1373.18" y="819.92" font-size="64.12" stroke="#000" stroke-width="0.90" textLength="31.65" lengthAdjust="spacingAndGlyphs">0</tspan><tspan x="1397.25" y="820.00" font-size="56.11" textLength="17.51" lengthAdjust="spacingAndGlyphs">.</tspan><tspan x="1411.06" y="819.97" font-size="64.06" stroke="#000" stroke-width="0.80" textLength="32.00" lengthAdjust="spacingAndGlyphs">5</tspan></text>
<text clip-path="url(#c0)"><tspan x="1280.16" y="891.65" font-size="64.39" stroke="#000" stroke-width="0.70" textLength="52.69" lengthAdjust="spacingAndGlyphs">M</tspan><tspan x="1336.66" y="892.42" font-size="51.40" stroke="#000" stroke-width="2.64" textLength="33.70" lengthAdjust="spacingAndGlyphs">=</tspan><tspan x="1372.95" y="891.85" font-size="64.97" stroke="#000" stroke-width="0.30" textLength="35.84" lengthAdjust="spacingAndGlyphs">1</tspan><tspan x="1397.25" y="892.00" font-size="56.11" textLength="17.51" lengthAdjust="spacingAndGlyphs">.</tspan><tspan x="1411.18" y="891.92" font-size="64.12" stroke="#000" stroke-width="0.90" textLength="31.65" lengthAdjust="spacingAndGlyphs">0</tspan></text>
<text clip-path="url(#c1)"><tspan x="1280.16" y="962.65" font-size="64.39" stroke="#000" stroke-width="0.70" textLength="52.69" lengthAdjust="spacingAndGlyphs">M</tspan><tspan x="1336.43" y="966.06" font-size="54.59" stroke="#000" stroke-width="2.41" textLength="34.16" lengthAdjust="spacingAndGlyphs">=</tspan><tspan x="1372.95" y="962.85" font-size="64.97" stroke="#000" stroke-width="0.30" textLength="35.84" lengthAdjust="spacingAndGlyphs">1</tspan><tspan x="1397.25" y="963.00" font-size="56.11" textLength="17.51" lengthAdjust="spacingAndGlyphs">.</tspan><tspan x="1411.06" y="962.97" font-size="64.06" stroke="#000" stroke-width="0.80" textLength="32.00" lengthAdjust="spacingAndGlyphs">5</tspan></text>
<text clip-path="url(#c2)"><tspan x="420.19" y="112.00" font-size="87.07" font-weight="bold" font-style="italic" textLength="43.83" lengthAdjust="spacingAndGlyphs">ϵ</tspan><tspan x="468.47" y="111.79" font-size="67.03" font-weight="bold" stroke="#000" stroke-width="4.67" textLength="46.01" lengthAdjust="spacingAndGlyphs">=</tspan><tspan x="518.19" y="112.35" font-size="85.32" font-weight="bold" font-style="italic" stroke="#000" stroke-width="1.30" textLength="58.80" lengthAdjust="spacingAndGlyphs">N</tspan><tspan x="584.89" y="113.00" font-size="91.57" font-weight="bold" textLength="49.68" lengthAdjust="spacingAndGlyphs">1</tspan><tspan x="637.47" y="111.79" font-size="67.03" font-weight="bold" stroke="#000" stroke-width="4.67" textLength="46.01" lengthAdjust="spacingAndGlyphs">=</tspan><tspan x="683.60" y="113.14" font-size="87.61" font-weight="bold" textLength="48.37" lengthAdjust="spacingAndGlyphs">e</tspan><tspan x="734.89" y="113.00" font-size="91.57" font-weight="bold" textLength="49.68" lengthAdjust="spacingAndGlyphs">1</tspan><tspan x="787.47" y="111.79" font-size="67.03" font-weight="bold" stroke="#000" stroke-width="4.67" textLength="46.01" lengthAdjust="spacingAndGlyphs">=</tspan><tspan x="833.60" y="113.14" font-size="87.61" font-weight="bold" textLength="48.37" lengthAdjust="spacingAndGlyphs">e</tspan><tspan x="885.12" y="113.00" font-size="90.23" font-weight="bold" textLength="46.21" lengthAdjust="spacingAndGlyphs">2</tspan><tspan x="937.47" y="111.79" font-size="67.03" font-weight="bold" stroke="#000" stroke-width="4.67" textLength="46.01" lengthAdjust="spacingAndGlyphs">=</tspan><tspan x="985.10" y="112.73" font-size="89.26" font-weight="bold" stroke="#000" stroke-width="0.80" textLength="45.91" lengthAdjust="spacingAndGlyphs">0</tspan><tspan x="1028.23" y="113.00" font-size="80.58" font-weight="bold" textLength="23.63" lengthAdjust="spacingAndGlyphs">.</tspan><tspan x="1053.89" y="113.00" font-size="91.57" font-weight="bold" textLength="49.68" lengthAdjust="spacingAndGlyphs">1</tspan><tspan x="1107.83" y="114.24" font-size="88.90" font-weight="bold" textLength="25.25" lengthAdjust="spacingAndGlyphs">,</tspan><tspan x="1134.77" y="111.70" font-size="91.37" font-weight="bold" stroke="#000" stroke-width="0.60" textLength="69.45" lengthAdjust="spacingAndGlyphs">Ω</tspan><tspan x="1206.47" y="111.79" font-size="67.03" font-weight="bold" stroke="#000" stroke-width="4.67" textLength="46.01" lengthAdjust="spacingAndGlyphs">=</tspan><tspan x="1255.30" y="112.30" font-size="81.10" font-weight="bold" font-style="italic" stroke="#000" stroke-width="1.40" textLength="50.45" lengthAdjust="spacingAndGlyphs">n</tspan><tspan x="1309.47" y="111.79" font-size="67.03" font-weight="bold" stroke="#000" stroke-width="4.67" textLength="46.01" lengthAdjust="spacingAndGlyphs">=</tspan><tspan x="1357.10" y="112.73" font-size="89.26" font-weight="bold" stroke="#000" stroke-width="0.80" textLength="45.91" lengthAdjust="spacingAndGlyphs">0</tspan><tspan x="1400.23" y="113.00" font-size="80.58" font-weight="bold" textLength="23.63" lengthAdjust="spacingAndGlyphs">.</tspan><tspan x="1426.47" y="113.12" font-size="90.29" font-weight="bold" textLength="45.83" lengthAdjust="spacingAndGlyphs">5</tspan></text>
<rect x="519" y="27" width="65" height="9" fill="#000" shape-rendering="crispEdges"/>
<rect x="1253" y="43" width="54" height="8" fill="#000" shape-rendering="crispEdges"/>
<text clip-path="url(#c3)"><tspan x="209.89" y="253.00" font-size="91.57" font-weight="bold" textLength="49.68" lengthAdjust="spacingAndGlyphs">1</tspan></text>
<text><tspan x="210.10" y="433.73" font-size="89.26" font-weight="bold" stroke="#000" stroke-width="0.80" textLength="45.91" lengthAdjust="spacingAndGlyphs">0</tspan></text>
<text clip-path="url(#c4)"><tspan x="155.28" y="627.48" font-size="109.71" font-weight="bold" textLength="52.41" lengthAdjust="spacingAndGlyphs">−</tspan><tspan x="209.89" y="614.00" font-size="91.57" font-weight="bold" textLength="49.68" lengthAdjust="spacingAndGlyphs">1</tspan></text>
<text><tspan x="155.28" y="806.48" font-size="109.71" font-weight="bold" textLength="52.41" lengthAdjust="spacingAndGlyphs">−</tspan><tspan x="210.12" y="792.00" font-size="90.23" font-weight="bold" textLength="46.21" lengthAdjust="spacingAndGlyphs">2</tspan></text>
<text><tspan x="155.28" y="986.48" font-size="109.71" font-weight="bold" textLength="52.41" lengthAdjust="spacingAndGlyphs">−</tspan><tspan x="211.15" y="972.99" font-size="90.21" font-weight="bold" textLength="44.75" lengthAdjust="spacingAndGlyphs">3</tspan></text>
<text><tspan x="279.10" y="1109.73" font-size="89.26" font-weight="bold" stroke="#000" stroke-width="0.80" textLength="45.91" lengthAdjust="spacingAndGlyphs">0</tspan></text>
<text><tspan x="538.12" y="1110.00" font-size="90.23" font-weight="bold" textLength="46.21" lengthAdjust="spacingAndGlyphs">2</tspan></text>
<text><tspan x="794.76" y="1110.00" font-size="90.12" font-weight="bold" textLength="45.68" lengthAdjust="spacingAndGlyphs">4</tspan></text>
<text><tspan x="1053.97" y="1110.12" font-size="90.39" font-weight="bold" textLength="46.02" lengthAdjust="spacingAndGlyphs">6</tspan></text>
<text><tspan x="1310.43" y="1110.12" font-size="90.39" font-weight="bold" textLength="45.06" lengthAdjust="spacingAndGlyphs">8</tspan></text>
<text clip-path="url(#c5)"><tspan x="1544.89" y="1110.00" font-size="91.57" font-weight="bold" textLength="49.68" lengthAdjust="spacingAndGlyphs">1</tspan><tspan x="1588.10" y="1109.73" font-size="89.26" font-weight="bold" stroke="#000" stroke-width="0.80" textLength="45.91" lengthAdjust="spacingAndGlyphs">0</tspan></text>
<text><tspan x="924.36" y="1240.18" font-size="85.89" font-weight="bold" font-style="italic" textLength="55.45" lengthAdjust="spacingAndGlyphs">η</tspan></text>
<text transform="rotate(-90)"><tspan x="-690.33" y="106.05" font-size="94.21" font-weight="bold" font-style="italic" stroke="#000" stroke-width="0.80" textLength="53.45" lengthAdjust="spacingAndGlyphs">g</tspan><tspan x="-633.61" y="104.18" font-size="96.19" font-weight="bold" textLength="20.59" lengthAdjust="spacingAndGlyphs">'</tspan><tspan x="-614.88" y="105.52" font-size="89.04" font-weight="bold" textLength="25.96" lengthAdjust="spacingAndGlyphs">(</tspan><tspan x="-583.61" y="105.18" font-size="85.89" font-weight="bold" font-style="italic" textLength="54.34" lengthAdjust="spacingAndGlyphs">η</tspan><tspan x="-529.08" y="105.52" font-size="89.04" font-weight="bold" textLength="27.14" lengthAdjust="spacingAndGlyphs">)</tspan></text>
<rect x="36" y="635" width="9" height="56" fill="#000" shape-rendering="crispEdges"/>
</svg>
</body>
</html>
